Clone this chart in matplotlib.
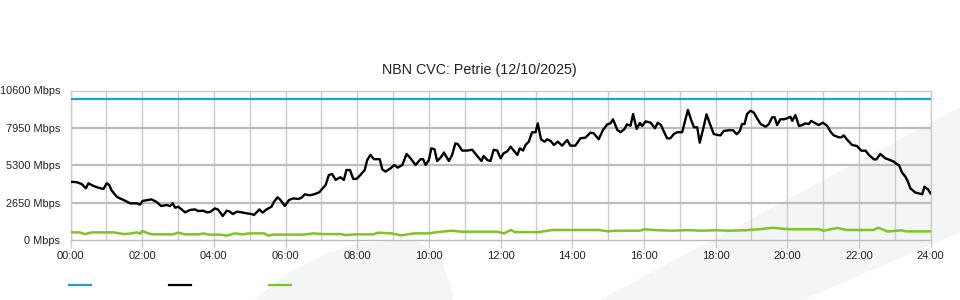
import matplotlib
matplotlib.use("Agg")
import matplotlib.pyplot as plt
from matplotlib.patches import Polygon
from matplotlib.lines import Line2D

plt.rcParams['font.family'] = ['Liberation Sans', 'DejaVu Sans']

title = "NBN CVC: Petrie (12/10/2025)"

# capacity line (Mbps)
cap_t = [0, 24]
cap_v = [10000, 10000]

# download traffic, hours since midnight -> Mbps
down_t = [0, 0.17, 0.31, 0.43, 0.50, 0.64, 0.78, 0.92, 1.01, 1.08,
          1.15, 1.29, 1.38, 1.52, 1.66, 1.85, 1.94, 2.01, 2.17, 2.26,
          2.40, 2.53, 2.68, 2.78, 2.85, 2.92, 3.01, 3.20, 3.34, 3.47,
          3.57, 3.71, 3.80, 3.90, 4.03, 4.12, 4.25, 4.36, 4.45, 4.53,
          4.64, 4.78, 4.92, 5.06, 5.12, 5.27, 5.36, 5.47, 5.61, 5.68,
          5.78, 5.86, 5.98, 6.10, 6.22, 6.36, 6.45, 6.54, 6.68, 6.82,
          6.94, 7.12, 7.21, 7.30, 7.40, 7.53, 7.63, 7.70, 7.80, 7.89,
          7.98, 8.09, 8.21, 8.28, 8.37, 8.47, 8.63, 8.70, 8.79, 8.93,
          9.04, 9.13, 9.26, 9.38, 9.49, 9.63, 9.77, 9.84, 9.91, 10.00,
          10.07, 10.16, 10.23, 10.34, 10.42, 10.56, 10.65, 10.74, 10.81, 10.93,
          11.07, 11.21, 11.35, 11.47, 11.53, 11.63, 11.72, 11.81, 11.91, 12.00,
          12.09, 12.19, 12.28, 12.37, 12.47, 12.54, 12.63, 12.70, 12.79, 12.88,
          12.98, 13.04, 13.13, 13.23, 13.30, 13.40, 13.49, 13.60, 13.72, 13.86,
          13.95, 14.09, 14.23, 14.37, 14.51, 14.60, 14.74, 14.86, 14.98, 15.07,
          15.14, 15.26, 15.35, 15.46, 15.53, 15.63, 15.70, 15.80, 15.89, 15.95,
          16.05, 16.19, 16.31, 16.39, 16.48, 16.56, 16.65, 16.74, 16.84, 16.93,
          17.07, 17.12, 17.23, 17.32, 17.40, 17.49, 17.56, 17.66, 17.75, 17.84,
          17.95, 18.05, 18.14, 18.23, 18.37, 18.49, 18.59, 18.68, 18.74, 18.81,
          18.88, 18.98, 19.07, 19.16, 19.26, 19.40, 19.49, 19.58, 19.65, 19.72,
          19.81, 19.91, 20.00, 20.09, 20.14, 20.23, 20.33, 20.42, 20.51, 20.60,
          20.67, 20.79, 20.88, 21.00, 21.12, 21.21, 21.30, 21.44, 21.51, 21.58,
          21.67, 21.81, 21.95, 22.07, 22.19, 22.28, 22.42, 22.49, 22.60, 22.74,
          22.87, 22.98, 23.05, 23.12, 23.21, 23.30, 23.37, 23.44, 23.58, 23.67,
          23.77, 23.83, 23.93, 24.00]
down_v = [4130, 4100, 3970, 3665, 4020, 3830, 3710, 3615, 4020, 3900,
          3500, 3070, 2950, 2790, 2600, 2600, 2510, 2770, 2840, 2880,
          2700, 2410, 2480, 2410, 2600, 2290, 2360, 1960, 2130, 2170,
          2050, 2080, 1960, 1990, 2240, 2150, 1700, 2080, 2010, 1840,
          2010, 1960, 1890, 1840, 1770, 2170, 1940, 2170, 2360, 2720,
          3030, 2840, 2410, 2840, 2950, 2910, 3000, 3240, 3170, 3260,
          3380, 3900, 4610, 4680, 4260, 4450, 4260, 4960, 4960, 4330,
          4330, 4610, 4960, 5670, 6030, 5730, 5730, 5010, 4850, 5080,
          5320, 5130, 5320, 6100, 5790, 5320, 5730, 5730, 5320, 5670,
          6500, 6430, 5600, 5870, 6200, 5600, 6030, 6850, 6800, 6340,
          6340, 6400, 5960, 5600, 5960, 5670, 5600, 6400, 6340, 5790,
          6150, 6290, 6620, 6340, 6030, 6500, 6340, 6740, 6970, 7640,
          7640, 8270, 7140, 6970, 7140, 7020, 6740, 6970, 6690, 7090,
          6690, 6690, 7210, 7260, 7610, 7570, 7140, 7800, 8200, 8270,
          8560, 7800, 7640, 7870, 8200, 8100, 8930, 7870, 8300, 8080,
          8410, 8320, 7920, 8320, 8150, 7680, 7210, 7210, 7520, 7640,
          7640, 8150, 9220, 8510, 7990, 7990, 6900, 7920, 8910, 8270,
          7520, 7450, 7420, 7730, 7780, 7780, 7500, 7730, 8220, 8220,
          8930, 9170, 9030, 8630, 8220, 8030, 8220, 8700, 8700, 8150,
          8560, 8560, 8630, 8740, 8450, 8860, 8080, 8150, 8270, 8220,
          8440, 8270, 8150, 8320, 8080, 7680, 7420, 7280, 7280, 7420,
          7120, 6740, 6660, 6330, 6330, 6030, 5720, 5720, 6100, 5790,
          5670, 5550, 5390, 5300, 4770, 4490, 4130, 3660, 3360, 3310,
          3240, 3780, 3590, 3310]

# upload traffic
up_t = [0, 0.25, 0.4, 0.6, 1.0, 1.2, 1.5, 1.7, 1.85, 1.95,
        2.0, 2.17, 2.3, 2.6, 2.85, 3.0, 3.2, 3.6, 3.7, 3.85,
        4.2, 4.36, 4.59, 4.8, 5.0, 5.4, 5.52, 5.66, 6.0, 6.5,
        6.78, 7.04, 7.55, 7.68, 7.94, 8.45, 8.58, 8.96, 9.22, 9.6,
        10.0, 10.24, 10.63, 10.9, 11.5, 11.9, 12.1, 12.29, 12.4, 13.06,
        13.45, 14.1, 14.73, 14.99, 15.24, 15.88, 16.01, 16.4, 16.8, 17.2,
        17.6, 18.0, 18.4, 18.83, 19.22, 19.6, 19.86, 20.1, 20.5, 20.9,
        21.01, 21.4, 21.65, 22.0, 22.4, 22.55, 22.8, 23.19, 23.3, 23.7,
        24.0]
up_v = [540, 540, 420, 540, 540, 540, 420, 470, 540, 450,
        640, 470, 400, 400, 400, 520, 400, 400, 470, 380,
        380, 310, 470, 400, 470, 470, 310, 380, 380, 380,
        470, 420, 420, 350, 400, 400, 520, 470, 330, 470,
        470, 560, 660, 590, 590, 590, 470, 710, 560, 560,
        710, 710, 710, 620, 660, 660, 760, 690, 660, 700,
        660, 690, 660, 690, 760, 870, 800, 760, 760, 760,
        660, 850, 710, 710, 710, 870, 600, 690, 610, 610,
        610]

y_ticks = [0, 2650, 5300, 7950, 10600]
x_ticks = list(range(0, 25, 2))
x_labels = ["%02d:00" % h for h in x_ticks]

BLUE = '#1ba1e2'
BLACK = '#000000'
GREEN = '#7cc523'

W, H = 960, 300


def fig_xy(pts):
    return [(x / W, 1 - y / H) for x, y in pts]


fig = plt.figure(figsize=(9.6, 3), dpi=100)

# faint background swooshes, behind everything
for pts in ([(254, 300), (290, 272), (330, 252), (359, 243), (414, 240),
             (438, 252), (451, 285), (453, 300)],
            [(600, 300), (960, 107), (960, 232), (803, 300)]):
    fig.patches.append(Polygon(fig_xy(pts), closed=True, transform=fig.transFigure,
                               facecolor='#f4f5f7', edgecolor='none', zorder=-5))

ax = fig.add_axes([70.5 / W, 1 - 240 / H, 860 / W, 149.5 / H])
ax.set_zorder(2)
ax.set_facecolor('none')

ax.plot(cap_t, cap_v, color=BLUE, lw=1.6, zorder=3)
ax.plot(down_t, down_v, color=BLACK, lw=1.7, zorder=4)
ax.plot(up_t, up_v, color=GREEN, lw=1.8, zorder=3)

ax.set_xlim(0, 24)
ax.set_ylim(0, 10600)
ax.set_xticks(x_ticks)
ax.set_xticklabels(x_labels)
ax.set_xticks(range(1, 24, 2), minor=True)
ax.set_yticks(y_ticks)
ax.set_yticklabels(["%d Mbps" % v for v in y_ticks])

ax.tick_params(axis='x', which='major', length=6, width=1, color='#cccccc',
               pad=2, labelsize=8, labelcolor='#222222')
ax.tick_params(axis='x', which='minor', length=0)
ax.tick_params(axis='y', length=0, pad=7.5, labelsize=7.9, labelcolor='#222222')

ax.set_axisbelow(True)
ax.grid(axis='x', which='both', color='#cccccc', lw=1)
ax.grid(axis='y', color='#bdbdbd', lw=1.6)
gl = ax.yaxis.get_gridlines()
gl[0].set_visible(False)
gl[-1].set_visible(False)

for s in ax.spines.values():
    s.set_color('#cccccc')
    s.set_linewidth(1)
ax.spines['bottom'].set_color('#bbbbbb')

fig.text(0.499, 1 - 70 / H, title, ha='center', va='center', fontsize=10.3, color='#222222')

# legend swatches (no labels in the original)
for x0, c in ((69.3, BLUE), (169.3, BLACK), (269.3, GREEN)):
    fig.add_artist(Line2D([x0 / W, (x0 + 22) / W], [1 - 285 / H] * 2,
                          transform=fig.transFigure, color=c, lw=1.6))

fig.savefig("out.png", dpi=100)
